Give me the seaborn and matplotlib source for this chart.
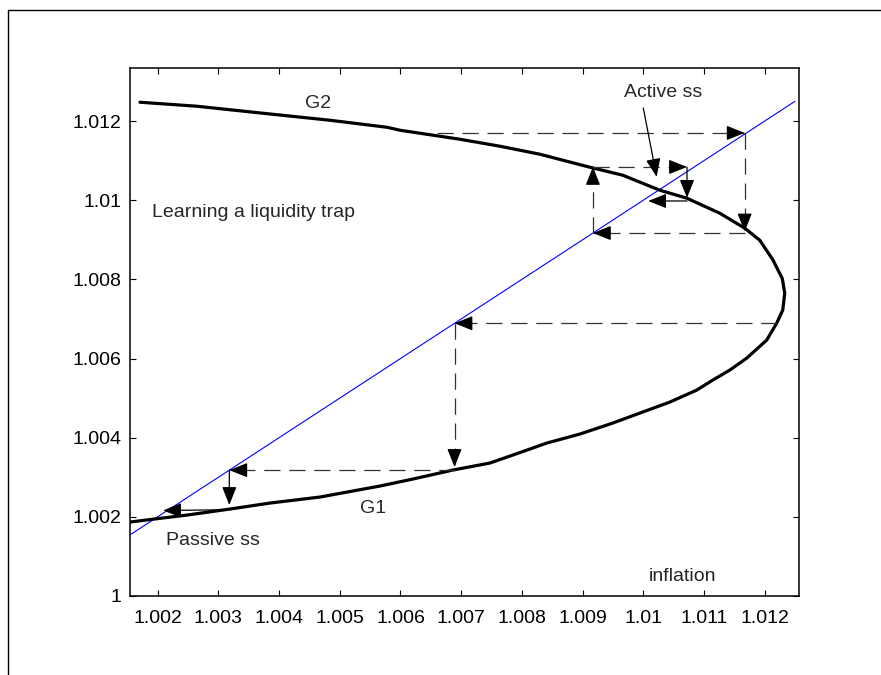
import matplotlib
matplotlib.use("Agg")
import matplotlib.pyplot as plt
from matplotlib.lines import Line2D
import seaborn as sns
import numpy as np

# ---- data ----
g_x = [1.001709, 1.002647, 1.003734, 1.004837, 1.005776, 1.005990, 1.006978, 1.007637,
       1.008295, 1.009119, 1.009662, 1.010271, 1.010716, 1.011259, 1.011671, 1.011918,
       1.012132, 1.012290, 1.012330, 1.012297, 1.012198, 1.012033, 1.011704, 1.011424,
       1.011144, 1.010880, 1.010436, 1.009942, 1.009497, 1.008954, 1.008410, 1.007851,
       1.007472, 1.006863, 1.006204, 1.005661, 1.004673, 1.003849, 1.003191, 1.002483,
       1.001544]
g_y = [1.012475, 1.012374, 1.012197, 1.012020, 1.011843, 1.011768, 1.011540, 1.011364,
       1.011162, 1.010833, 1.010631, 1.010253, 1.010051, 1.009672, 1.009293, 1.008990,
       1.008500, 1.008020, 1.007652, 1.007222, 1.006894, 1.006465, 1.006010, 1.005707,
       1.005455, 1.005202, 1.004899, 1.004621, 1.004369, 1.004091, 1.003864, 1.003561,
       1.003359, 1.003182, 1.002955, 1.002778, 1.002500, 1.002348, 1.002197, 1.002045,
       1.001869]
diag = [1.00154, 1.01250]

x_ticks = [1.002, 1.003, 1.004, 1.005, 1.006, 1.007, 1.008, 1.009, 1.010, 1.011, 1.012]
x_labels = ["1.002", "1.003", "1.004", "1.005", "1.006", "1.007", "1.008", "1.009", "1.01", "1.011", "1.012"]
y_ticks = [1.000, 1.002, 1.004, 1.006, 1.008, 1.010, 1.012]
y_labels = ["1", "1.002", "1.004", "1.006", "1.008", "1.01", "1.012"]

# cobweb steps: (x0, y0, x1, y1, dashed)
web_upper = [
    (1.00660, 1.01170, 1.01167, 1.01170, True),
    (1.01167, 1.01170, 1.01167, 1.00921, True),
    (1.01167, 1.00917, 1.00917, 1.00917, True),
    (1.00917, 1.00917, 1.00917, 1.01084, True),
    (1.00917, 1.01084, 1.01072, 1.01084, True),
    (1.01072, 1.01084, 1.01072, 1.01006, False),
    (1.01072, 1.00998, 1.01008, 1.00998, False),
]
web_lower = [
    (1.01220, 1.00689, 1.00689, 1.00689, True),
    (1.00689, 1.00689, 1.00689, 1.00326, True),
    (1.00689, 1.00318, 1.00318, 1.00318, True),
    (1.00318, 1.00318, 1.00318, 1.00230, False),
    (1.00318, 1.00218, 1.00209, 1.00216, False),
]

sns.set_style("ticks")
plt.rcParams["font.family"] = ["Liberation Sans", "DejaVu Sans"]
plt.rcParams["font.size"] = 14

fig = plt.figure(figsize=(8.81, 6.75), dpi=100)
ax = fig.add_axes([130 / 881, 1 - 596 / 675, (799 - 130) / 881, (596 - 68) / 675])

sns.lineplot(x=diag, y=diag, color="#0000ff", lw=0.8, ax=ax, sort=False, estimator=None)
sns.lineplot(x=g_x, y=g_y, color="black", lw=2.3, ax=ax, sort=False, estimator=None)

head = "-|>,head_length=0.8,head_width=0.32"
for seg in web_upper + web_lower:
    x0, y0, x1, y1, dashed = seg
    if dashed:
        ax.plot([x0, x1], [y0, y1], color="#333333", lw=0.9, dashes=(13, 7))
        dx = np.sign(x1 - x0)
        dy = np.sign(y1 - y0)
        ax.annotate("", xy=(x1, y1), xytext=(-dx * 8, -dy * 8), textcoords="offset points",
                    arrowprops=dict(arrowstyle=head, color="black", lw=0.9,
                                    shrinkA=0, shrinkB=0))
    else:
        ax.annotate("", xy=(x1, y1), xytext=(x0, y0),
                    arrowprops=dict(arrowstyle=head, color="black", lw=0.9,
                                    shrinkA=0, shrinkB=0))

# Active ss annotation
ax.annotate("", xy=(1.01022, 1.01059), xytext=(1.01000, 1.01233),
            arrowprops=dict(arrowstyle=head, color="black", lw=0.9, shrinkA=0, shrinkB=0))
ax.text(1.01032, 1.01271, "Active ss", ha="center", va="center", fontsize=14)
ax.text(1.00464, 1.01245, "G2", ha="center", va="center", fontsize=14)
ax.text(1.00190, 1.00968, "Learning a liquidity trap", ha="left", va="center", fontsize=14)
ax.text(1.00555, 1.00222, "G1", ha="center", va="center", fontsize=14)
ax.text(1.00214, 1.00141, "Passive ss", ha="left", va="center", fontsize=14)
ax.text(1.01065, 1.00050, "inflation", ha="center", va="center", fontsize=14)

ax.set_xlim(1.001544, 1.012565)
ax.set_ylim(1.0, 1.01334)
ax.set_xticks(x_ticks)
ax.set_xticklabels(x_labels)
ax.set_yticks(y_ticks)
ax.set_yticklabels(y_labels)
ax.set_xlabel("")
ax.set_ylabel("")
ax.tick_params(direction="in", length=4.5, width=0.8, top=True, right=True,
               labelsize=14, colors="black")
ax.tick_params(axis="x", pad=10)
ax.tick_params(axis="y", pad=6)
for s in ax.spines.values():
    s.set_visible(True)
    s.set_linewidth(1.1)
    s.set_color("black")

# outer frame (clipped figure border)
fig.add_artist(Line2D([8 / 881, 8 / 881], [0, 1 - 10 / 675], color="black", lw=1.0,
                      transform=fig.transFigure))
fig.add_artist(Line2D([8 / 881, 1], [1 - 10 / 675, 1 - 10 / 675], color="black", lw=1.0,
                      transform=fig.transFigure))

fig.savefig("out.png", dpi=100, facecolor="white")
